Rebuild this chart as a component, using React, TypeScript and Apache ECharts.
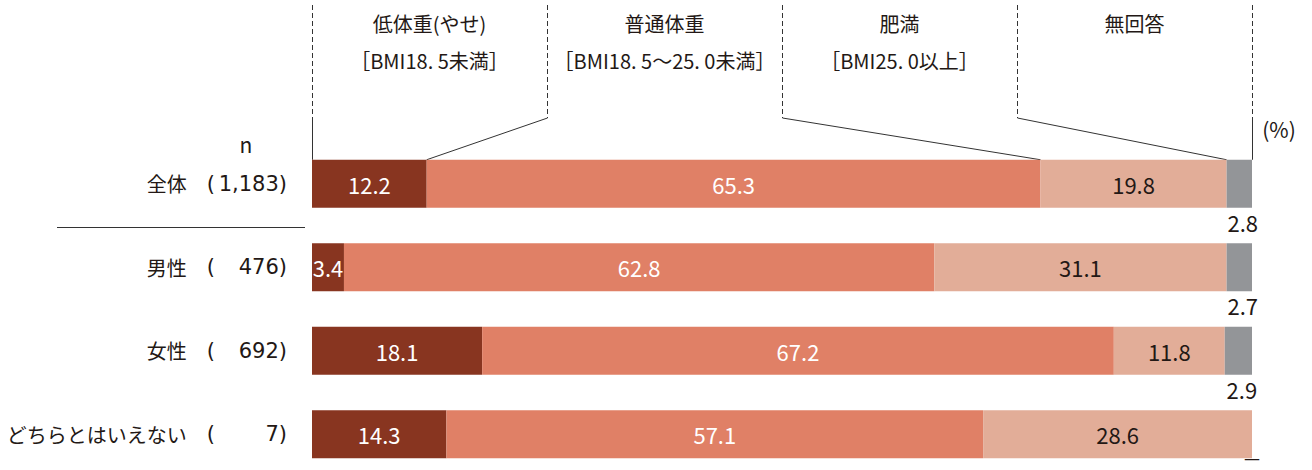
import React, { useEffect, useRef } from 'react';
import * as echarts from 'echarts';

const categories = ['全体', '男性', '女性', 'どちらとはいえない'];
const sampleSizes = ['1,183', '476', '692', '7'];
const seriesNames = ['低体重(やせ)', '普通体重', '肥満', '無回答'];
const seriesSubNames = ['［BMI18. 5未満］', '［BMI18. 5～25. 0未満］', '［BMI25. 0以上］', ''];
const underweight = [12.2, 3.4, 18.1, 14.3];
const normal = [65.3, 62.8, 67.2, 57.1];
const obese = [19.8, 31.1, 11.8, 28.6];
const noAnswer = [2.8, 2.7, 2.9, 0];
const colors = ['#883520', '#E08066', '#E2AD98', '#939598'];

const FONT = '"Noto Sans CJK JP", "Noto Sans", sans-serif';
const NUMFONT = '"DejaVu Sans", "Noto Sans", sans-serif';
const TXT = '#231815';
const GL = 312;
const GW = 940;
const GT = 142;
const GH = 334;
const BAR = 48;

export default function App() {
  const ref = useRef<HTMLDivElement>(null);
  useEffect(() => {
    if (!ref.current) return;
    const chart = echarts.init(ref.current, null, { renderer: 'svg' });
    const values = [underweight, normal, obese, noAnswer];
    const band = GH / categories.length;
    const barTop = GT + band / 2 - BAR / 2;
    const cum: number[] = [];
    let acc = 0;
    for (let i = 0; i < 3; i++) {
      acc += values[i][0];
      cum.push(acc);
    }
    const graphic: any[] = [];
    const lineStyle = { stroke: '#333', lineWidth: 1 };
    for (let i = 0; i <= 4; i++) {
      const x = Math.round(GL + (i * GW) / 4) + 0.5;
      graphic.push({
        type: 'line',
        shape: { x1: x, y1: 5, x2: x, y2: 118 },
        style: { ...lineStyle, lineDash: [5, 3] },
      });
      if (i === 0 || i === 4) {
        graphic.push({ type: 'line', shape: { x1: x, y1: 118, x2: x, y2: barTop }, style: lineStyle });
      } else {
        graphic.push({
          type: 'line',
          shape: { x1: x, y1: 118, x2: GL + (cum[i - 1] / 100) * GW, y2: barTop },
          style: lineStyle,
        });
      }
    }
    seriesNames.forEach((n, i) => {
      const cx = GL + ((i + 0.5) * GW) / 4;
      graphic.push({
        type: 'text',
        x: cx,
        y: 23,
        style: { text: n, fill: TXT, font: `20px ${FONT}`, align: 'center', verticalAlign: 'middle' },
      });
      if (seriesSubNames[i]) {
        graphic.push({
          type: 'text',
          x: cx,
          y: 60,
          style: { text: seriesSubNames[i], fill: TXT, font: `20px ${FONT}`, align: 'center', verticalAlign: 'middle' },
        });
      }
    });
    graphic.push({
      type: 'text',
      x: 1279,
      y: 129,
      style: { text: '(%)', fill: TXT, font: `21px ${FONT}`, align: 'center', verticalAlign: 'middle' },
    });
    graphic.push({
      type: 'text',
      x: 246,
      y: 144,
      style: { text: 'n', fill: TXT, font: `21px ${FONT}`, align: 'center', verticalAlign: 'middle' },
    });
    graphic.push({
      type: 'line',
      shape: { x1: 57, y1: 227.5, x2: 305, y2: 227.5 },
      style: { stroke: '#333', lineWidth: 1 },
    });

    const labelColors = ['#ffffff', '#ffffff', TXT];
    const series: any[] = values.map((arr, i) => ({
      name: seriesNames[i],
      type: 'bar',
      stack: 'total',
      barWidth: BAR,
      data:
        i < 3
          ? arr
          : arr.map((v) =>
              v === 0
                ? {
                    value: v,
                    label: { fontSize: 16, fontFamily: NUMFONT, offset: [0, -11] },
                  }
                : v
            ),
      itemStyle: { color: colors[i] },
      label:
        i < 3
          ? {
              show: true,
              position: 'inside',
              color: labelColors[i],
              fontSize: 22,
              fontFamily: FONT,
              formatter: (p: any) => p.value.toFixed(1),
            }
          : {
              show: true,
              position: 'bottom',
              distance: 3,
              offset: [3.5, 0],
              color: TXT,
              fontSize: 22,
              fontFamily: FONT,
              formatter: (p: any) => (p.value === 0 ? '—' : p.value.toFixed(1)),
            },
    }));

    chart.setOption({
      animation: false,
      textStyle: { fontFamily: FONT },
      grid: { left: GL, width: GW, top: GT, height: GH, containLabel: false, outerBoundsMode: 'none' },
      xAxis: { type: 'value', min: 0, max: 100, show: false },
      yAxis: {
        type: 'category',
        inverse: true,
        data: categories,
        axisLine: { show: false },
        axisTick: { show: false },
        axisLabel: {
          margin: 25,
          color: TXT,
          fontSize: 21,
          fontFamily: FONT,
          formatter: (v: string, idx: number) =>
            `{name|${v}}{g| }{op|(}{num|${sampleSizes[idx]})}`,
          rich: {
            name: { fontSize: 20, fontFamily: FONT, color: TXT },
            g: { width: 20, fontSize: 21 },
            op: { fontSize: 21, fontFamily: NUMFONT, color: TXT },
            num: { width: 72, align: 'right', fontSize: 21, fontFamily: NUMFONT, color: TXT },
          },
        },
      },
      graphic,
      series,
    });
    return () => chart.dispose();
  }, []);
  return (
    <div
      ref={ref}
      style={{ position: 'fixed', left: 0, top: 0, width: 1312, height: 470, background: '#fff' }}
    />
  );
}
